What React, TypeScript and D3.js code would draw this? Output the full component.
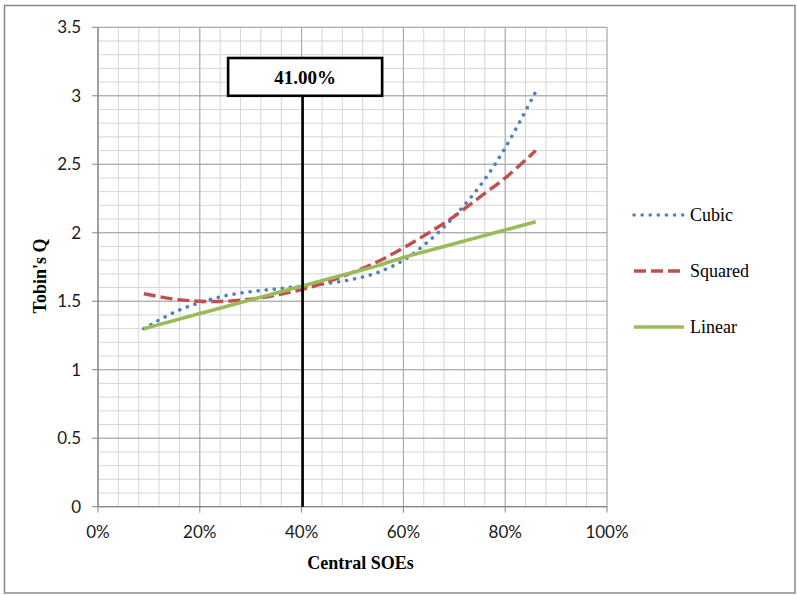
import React from "react";
import * as d3 from "d3";

// ---- data ----
const xPct: number[] = [9, 15, 20, 25, 30, 35, 40, 45, 50, 55, 60, 65, 70, 75, 80, 86];
const cubic: number[] = [1.30, 1.42, 1.49, 1.54, 1.57, 1.59, 1.61, 1.63, 1.66, 1.71, 1.80, 1.94, 2.12, 2.34, 2.62, 3.03];
const squared: number[] = [1.555, 1.515, 1.50, 1.50, 1.515, 1.545, 1.585, 1.64, 1.71, 1.79, 1.89, 2.00, 2.12, 2.26, 2.40, 2.60];
const linear: number[] = [1.30, 1.36, 1.41, 1.46, 1.51, 1.56, 1.61, 1.66, 1.71, 1.76, 1.82, 1.87, 1.92, 1.97, 2.02, 2.08];
const seriesNames: string[] = ["Cubic", "Squared", "Linear"];
const xTicks: number[] = [0, 20, 40, 60, 80, 100];
const yTicks: number[] = [0, 0.5, 1, 1.5, 2, 2.5, 3, 3.5];
const thresholdPos = 40.2; // where the marker line is drawn
const thresholdLabel = "41.00%";
const xTitle = "Central SOEs";
const yTitle = "Tobin's Q";

const W = 797, H = 595;
const L = 98, R = 607, T = 27.3, B = 506.7;

export default function App() {
  const x = d3.scaleLinear().domain([0, 100]).range([L, R]);
  const y = d3.scaleLinear().domain([0, 3.5]).range([B, T]);
  const line = d3
    .line<number>()
    .x((_, i) => x(xPct[i]))
    .y((d) => y(d))
    .curve(d3.curveCatmullRom.alpha(0.5));

  const minorX = d3.range(0, 100.001, 4);
  const minorY = d3.range(0, 3.5001, 0.1);

  const styles = [
    { color: "#4F81BD", dash: "0.1 8", cap: "round" as const, width: 3.6 },
    { color: "#C0504D", dash: "12 5", cap: "butt" as const, width: 3.4 },
    { color: "#9BBB59", dash: undefined, cap: "butt" as const, width: 3.6 },
  ];
  const data = [cubic, squared, linear];
  const legendY = [215, 271, 327];
  const lx = x(thresholdPos);
  const tickFont = "Lato, 'Open Sans', sans-serif";
  const serif = "'Liberation Serif', 'DejaVu Serif', serif";

  return (
    <svg
      width={W}
      height={H}
      style={{ position: "absolute", left: 0, top: 0, background: "#fff" }}
    >
      <rect x={0} y={0} width={W} height={H} fill="#fff" />
      <rect x={4.5} y={5.5} width={790.5} height={587.5} fill="none" stroke="#8a8a8a" strokeWidth={1.5} />

      {/* minor grid */}
      {minorX.map((v) => (
        <line key={"mx" + v} x1={x(v)} x2={x(v)} y1={T} y2={B} stroke="#d6d6d6" strokeWidth={1} />
      ))}
      {minorY.map((v) => (
        <line key={"my" + v} x1={L} x2={R} y1={y(v)} y2={y(v)} stroke="#d6d6d6" strokeWidth={1} />
      ))}
      {/* major grid */}
      {xTicks.map((v) => (
        <line key={"gx" + v} x1={x(v)} x2={x(v)} y1={T} y2={B} stroke="#a8a8a8" strokeWidth={1} />
      ))}
      {yTicks.map((v) => (
        <line key={"gy" + v} x1={L} x2={R} y1={y(v)} y2={y(v)} stroke="#a0a0a0" strokeWidth={1} />
      ))}

      {/* axes */}
      <line x1={L} x2={L} y1={T} y2={B} stroke="#868686" strokeWidth={1.2} />
      <line x1={L} x2={R} y1={B} y2={B} stroke="#868686" strokeWidth={1.2} />
      {yTicks.map((v) => (
        <g key={"yt" + v}>
          <line x1={L - 6} x2={L} y1={y(v)} y2={y(v)} stroke="#868686" />
          <text
            x={81}
            y={y(v)}
            dy="0.35em"
            textAnchor="end"
            fontFamily={tickFont}
            fontSize={17}
            fill="#1a1a1a"
          >
            {String(v)}
          </text>
        </g>
      ))}
      {xTicks.map((v) => (
        <g key={"xt" + v}>
          <line x1={x(v)} x2={x(v)} y1={B} y2={B + 6} stroke="#868686" />
          <text
            x={x(v)}
            y={538}
            textAnchor="middle"
            fontFamily={tickFont}
            fontSize={17}
            fill="#1a1a1a"
          >
            {v + "%"}
          </text>
        </g>
      ))}

      {/* series */}
      {data.map((d, i) => (
        <path
          key={seriesNames[i]}
          d={line(d) || ""}
          fill="none"
          stroke={styles[i].color}
          strokeWidth={styles[i].width}
          strokeDasharray={styles[i].dash}
          strokeLinecap={styles[i].cap}
        />
      ))}

      {/* threshold marker */}
      <line x1={lx} x2={lx} y1={y(3)} y2={B} stroke="#000" strokeWidth={2.6} />
      <rect x={lx - 74.5} y={58} width={154} height={y(3) - 58} fill="#fff" stroke="#000" strokeWidth={2.6} />
      <text
        x={lx + 2.5}
        y={(58 + y(3)) / 2}
        dy="0.35em"
        textAnchor="middle"
        fontFamily={serif}
        fontWeight="bold"
        fontSize={19}
        fill="#000"
      >
        {thresholdLabel}
      </text>

      {/* legend */}
      {seriesNames.map((n, i) => (
        <g key={"lg" + n}>
          <line
            x1={634}
            x2={684}
            y1={legendY[i]}
            y2={legendY[i]}
            stroke={styles[i].color}
            strokeWidth={styles[i].width}
            strokeDasharray={styles[i].dash}
            strokeLinecap={styles[i].cap}
          />
          <text
            x={690}
            y={legendY[i]}
            dy="0.33em"
            fontFamily={serif}
            fontSize={18}
            fill="#000"
          >
            {n}
          </text>
        </g>
      ))}

      {/* axis titles */}
      <text
        x={(L + R) / 2 + 8}
        y={569}
        textAnchor="middle"
        fontFamily={serif}
        fontWeight="bold"
        fontSize={18}
        fill="#000"
      >
        {xTitle}
      </text>
      <text
        transform={`translate(46,276) rotate(-90)`}
        textAnchor="middle"
        fontFamily={serif}
        fontWeight="bold"
        fontSize={18}
        fill="#000"
      >
        {yTitle}
      </text>
    </svg>
  );
}
